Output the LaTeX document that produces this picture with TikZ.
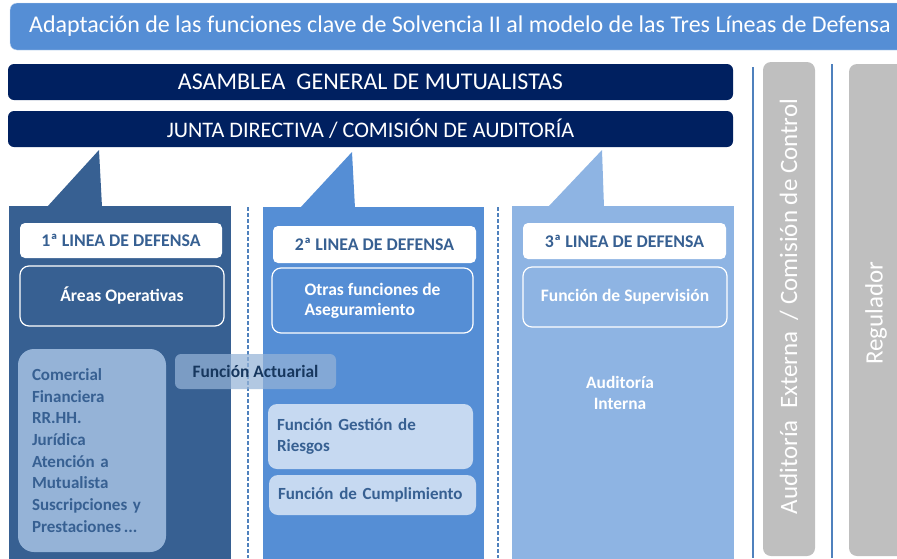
\documentclass[tikz,border=0pt]{standalone}
\usepackage{fontspec}
\setmainfont{Carlito}
\usepackage{tikz}
\definecolor{tituloazul}{HTML}{558ED5}
\definecolor{marino}{HTML}{002060}
\definecolor{lineauno}{HTML}{376092}
\definecolor{lineados}{HTML}{558ED5}
\definecolor{lineatres}{HTML}{8EB4E3}
\definecolor{grisctl}{HTML}{BFBFBF}
\definecolor{azulclaro}{HTML}{95B3D7}
\definecolor{azulpalido}{HTML}{C6D9F1}
\definecolor{azulraya}{HTML}{4F81BD}
\definecolor{textoosc}{HTML}{17375E}

\begin{document}
\begin{tikzpicture}[x=1pt,y=-1pt,
  barra/.style={fill=marino,rounded corners=6pt,minimum width=725pt,minimum height=36pt,
    inner sep=0pt,text=white,font=\fontsize{24}{28}\selectfont},
  etiqueta/.style={fill=white,rounded corners=5pt,minimum width=203pt,minimum height=36pt,
    inner sep=0pt,text=lineauno,font=\fontsize{17.8}{20}\selectfont\bfseries},
  marco/.style={draw=white,line width=1.2pt,rounded corners=9pt,minimum width=203pt,
    minimum height=60pt,inner sep=0pt,text=white,font=\fontsize{17.5}{20}\selectfont\bfseries},
  pastilla/.style={fill=azulpalido,rounded corners=9pt,inner xsep=9pt,inner ysep=0pt,
    align=left,text=lineauno,font=\fontsize{17}{21}\selectfont\bfseries},
  vertical/.style={rotate=90,text=white,font=\fontsize{25}{28}\selectfont}]
  \clip
    (0,0)
    rectangle
    (897,558);
  \node[fill=tituloazul,draw=azulpalido,rounded corners=7pt,minimum width=900pt,
    minimum height=47pt,inner sep=0pt,text=white,font=\fontsize{24}{28}\selectfont]
    (titulo) at (460,26.5)
    {Adaptación de las funciones clave de Solvencia II al modelo de las Tres Líneas de Defensa};
  \node[barra] (asamblea) at (370.5,82) {ASAMBLEA\ \ GENERAL DE MUTUALISTAS};
  \node[barra,font=\fontsize{22.2}{26}\selectfont] (junta) at (370.5,129)
    {JUNTA DIRECTIVA / COMISIÓN DE AUDITORÍA};
  \fill[lineauno]
    (9,206)
    rectangle
    (231,560);
  \fill[lineauno]
    (47,207) -- (99,150) -- (102,207) -- cycle;
  \fill[lineados]
    (263,207)
    rectangle
    (484,560);
  \fill[lineados]
    (300,208) -- (352,152) -- (355,208) -- cycle;
  \fill[lineatres]
    (512,206)
    rectangle
    (734,560);
  \fill[lineatres]
    (548,207) -- (602,150) -- (604,207) -- cycle;
  \draw[azulraya,line width=1.2pt,dash pattern=on 4pt off 2pt]
    (248,207)
    --
    (248,558);
  \draw[azulraya,line width=1.2pt,dash pattern=on 4pt off 2pt]
    (498,207)
    --
    (498,558);
  \draw[azulraya,line width=1.5pt]
    (753,67)
    --
    (753,558);
  \draw[azulraya,line width=1.5pt]
    (832,64)
    --
    (832,558);
  \fill[grisctl,rounded corners=8pt]
    (763,62)
    rectangle
    (815,556);
  \fill[grisctl,rounded corners=8pt]
    (849,64)
    rectangle
    (910,556);
  \node[vertical] (externa) at (789,306.5) {Auditoría\ \ Externa\ \ / Comisión de Control};
  \node[vertical] (regulador) at (876,313) {Regulador};
  \node[etiqueta,minimum width=202pt,minimum height=35pt] (uno) at (121,240.5) {1ª LINEA DE DEFENSA};
  \node[marco,minimum width=204pt] (areas) at (122,296) {Áreas Operativas};
  \node[pastilla,fill=azulclaro,rounded corners=16pt,text width=120pt,inner xsep=14pt,
    minimum height=203pt,font=\fontsize{17}{21.7}\selectfont\bfseries] (departamentos) at (92,450.5)
    {Comercial\\Financiera\\RR.HH.\\Jurídica\\Atención a\\Mutualista\\Suscripciones y\\Prestaciones\,...};
  \node[fill=azulclaro,fill opacity=0.73,text opacity=1,rounded corners=6pt,minimum width=161pt,
    minimum height=35pt,inner sep=0pt,text=textoosc,font=\fontsize{17.4}{20}\selectfont\bfseries]
    (actuarial) at (255.5,371.5) {Función Actuarial};
  \node[etiqueta,minimum height=37pt] (dos) at (374.5,244.5) {2ª LINEA DE DEFENSA};
  \node[marco,minimum width=201pt,minimum height=65pt,align=left] (otras) at (372.5,300.5)
    {Otras funciones de\\Aseguramiento};
  \node[pastilla,text width=187pt,minimum height=65pt] (riesgos) at (370.5,436.5)
    {Función Gestión de\\Riesgos};
  \node[pastilla,text width=189pt,minimum height=40pt] (cumplimiento) at (372.5,495)
    {Función de Cumplimiento};
  \node[etiqueta] (tres) at (624.5,241) {3ª LINEA DE DEFENSA};
  \node[marco,minimum width=204pt] (supervision) at (625,297) {Función de Supervisión};
  \node[align=center,inner sep=0pt,text=white,font=\fontsize{17.4}{21}\selectfont\bfseries]
    (interna) at (620,392.5) {Auditoría\\Interna};
\end{tikzpicture}
\end{document}
